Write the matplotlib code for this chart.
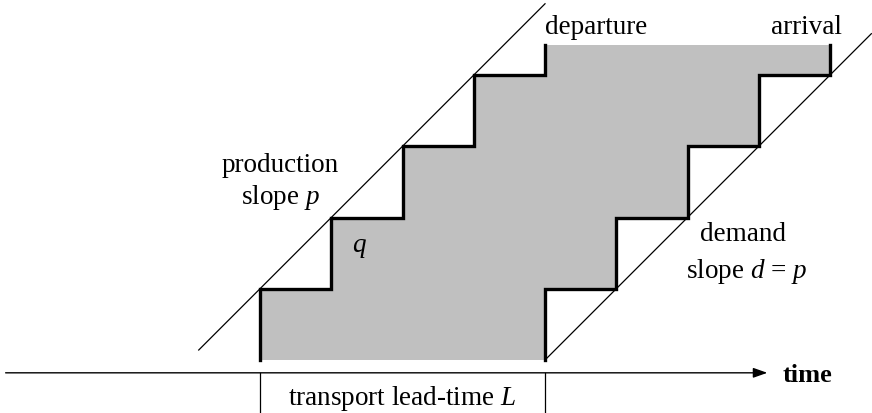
import matplotlib
matplotlib.use("Agg")
import matplotlib.pyplot as plt
import numpy as np

# staircase of cumulative departures (one batch q per period)
departure_x = [0, 0, 1, 1, 2, 2, 3, 3, 4, 4]
departure_y = [0, 1, 1, 2, 2, 3, 3, 4, 4, 4.42]
lead_time = 4
# production line y = x + 1, demand line y = x - lead_time
production_x = [-0.86, 4.0]
demand_x = [4.0, 8.58]
axis_y = -0.18

plt.rcParams["font.family"] = ["Liberation Serif", "DejaVu Serif"]
plt.rcParams["mathtext.fontset"] = "custom"
plt.rcParams["mathtext.it"] = "Liberation Serif:italic"
plt.rcParams["mathtext.rm"] = "Liberation Serif"

fig = plt.figure(figsize=(8.72, 4.14), dpi=100)
ax = fig.add_axes([0, 0, 1, 1])
ax.set_xlim(-3.649, 8.589)
ax.set_ylim(-0.744, 5.067)
ax.axis("off")

dep_x = np.array(departure_x, dtype=float)
dep_y = np.array(departure_y, dtype=float)
arr_x = dep_x + lead_time

# gray pipeline inventory
poly_x = np.concatenate([dep_x, [arr_x[-1]], arr_x[::-1]])
poly_y = np.concatenate([dep_y, [dep_y[-1]], dep_y[::-1]])
ax.fill(poly_x, poly_y, color="#c0c0c0", lw=0, zorder=1)

ax.plot(dep_x, dep_y, color="black", lw=2.4, zorder=3, solid_joinstyle="miter")
ax.plot(arr_x, dep_y, color="black", lw=2.4, zorder=3, solid_joinstyle="miter")

px = np.array(production_x)
ax.plot(px, px + 1, color="black", lw=0.9, zorder=2)
dx = np.array(demand_x)
ax.plot(dx, dx - lead_time, color="black", lw=0.9, zorder=2)

# time axis
ax.annotate("", xy=(7.12, axis_y), xytext=(-3.57, axis_y),
            arrowprops=dict(arrowstyle="-|>,head_length=0.85,head_width=0.3",
                            color="black", lw=1.0, shrinkA=0, shrinkB=0))
ax.text(7.33, axis_y - 0.02, "time", fontsize=19, fontweight="bold",
        ha="left", va="center")
for t in [0, lead_time]:
    ax.plot([t, t], [axis_y, -0.744], color="black", lw=0.9)

fs = 19.5
ax.text(2.0, -0.52, "transport lead-time $\\mathit{L}$", fontsize=fs,
        ha="center", va="center")
ax.text(4.0, 4.68, "departure", fontsize=fs, ha="left", va="center")
ax.text(8.17, 4.68, "arrival", fontsize=fs, ha="right", va="center")
ax.text(0.28, 2.74, "production", fontsize=fs, ha="center", va="center")
ax.text(0.28, 2.30, "slope $\\mathit{p}$", fontsize=fs, ha="center", va="center")
ax.text(1.4, 1.60, "$\\mathit{q}$", fontsize=fs, ha="center", va="center")
ax.text(6.78, 1.77, "demand", fontsize=fs, ha="center", va="center")
ax.text(6.83, 1.25, "slope $\\mathit{d}$ = $\\mathit{p}$", fontsize=fs,
        ha="center", va="center")

fig.savefig("out.png", dpi=100, facecolor="white")
